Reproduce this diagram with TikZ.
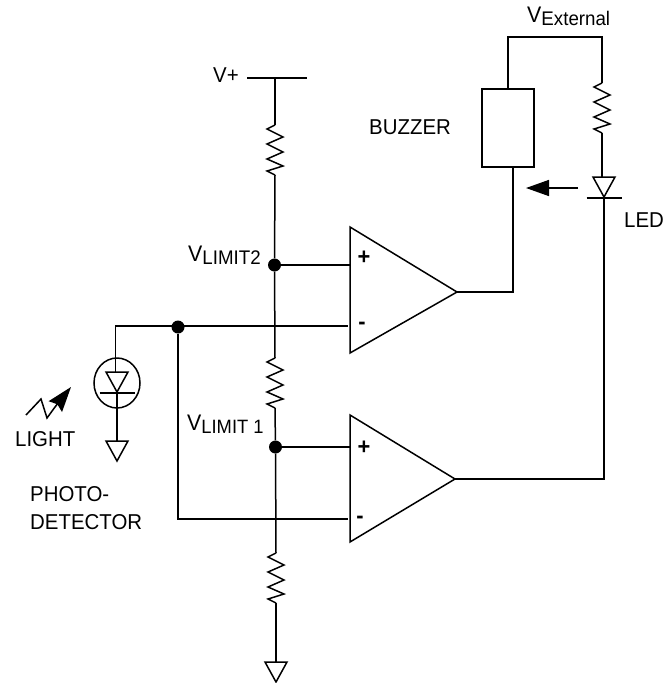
\documentclass[tikz,border=0pt]{standalone}
\usepackage{fontspec}
\setmainfont[FakeStretch=0.95]{Liberation Sans}
\usetikzlibrary{arrows.meta,shapes.geometric}
\tikzset{
  x=1pt,y=-1pt,
  wire/.style={line width=1.5pt,line join=miter},
  dotnode/.style={circle,fill=black,inner sep=0pt,minimum size=13pt},
  lbl/.style={anchor=base west,inner sep=0pt,font=\fontsize{21.5}{24}\selectfont},
  sign/.style={inner sep=0pt,font=\bfseries\fontsize{23}{24}\selectfont},
  pics/res/.style={code={
    \coordinate (-t) at (0,0);
    \coordinate (-b) at (0,50);
    \draw[wire] (0,0) -- (-8,4) -- (8,12) -- (-8,19) -- (8,27) -- (-8,34) -- (8,41) -- (-8,46) -- (0,50);
  }},
  pics/gnd/.style={code={
    \coordinate (-t) at (0,0);
    \draw[wire] (-11,0) -- (11,0) -- (0,20) -- cycle;
  }},
  pics/diode/.style={code={
    \coordinate (-t) at (0,0);
    \coordinate (-b) at (0,21);
    \draw[wire] (-11,0) -- (11,0) -- (0,20) -- cycle;
    \draw[wire] (-17.5,21) -- (17.5,21);
  }},
}
\newcommand{\Vsub}[2]{{\fontsize{22.5}{24}\selectfont V}{\fontsize{#1}{24}\selectfont\raisebox{-3.5pt}{#2}}}
\begin{document}
\begin{tikzpicture}
\useasboundingbox (0,0) rectangle (672,683);
% junctions
\node[dotnode] (dA) at (274.5,265) {};
\node[dotnode] (dB) at (275.5,447) {};
\node[dotnode] (dC) at (178,327) {};
% rail
\coordinate (railL) at (247,78);
\coordinate (railR) at (307,78);
\coordinate (railM) at (275,78);
\draw[wire] (railL) -- (railR);
% resistors
\pic (r1) at (275,125) {res};
\pic (r2) at (275,358) {res};
\pic (r3) at (276,553) {res};
\pic (r4) at (602,83) {res};
\pic (g1) at (276,662) {gnd};
\pic (g2) at (117,441) {gnd};
% comparators
\coordinate (a1t) at (350,227);
\coordinate (a1b) at (350,353);
\coordinate (a1o) at (457,292);
\coordinate (a1p) at (350,265);
\coordinate (a1m) at (348,326);
\coordinate (a2t) at (350,415);
\coordinate (a2b) at (350,542);
\coordinate (a2o) at (455,479);
\coordinate (a2p) at (350,447);
\coordinate (a2m) at (348,519);
\draw[wire] (a1t) -- (a1o) -- (a1b) -- cycle;
\draw[wire] (a2t) -- (a2o) -- (a2b) -- cycle;
\node[sign] (s1) at (364,258) {+};
\node[sign] (s2) at (362,326) {-};
\node[sign] (s3) at (364,448) {+};
\node[sign] (s4) at (360,520) {-};
% ladder
\draw[wire] (railM) -- (r1-t);
\draw[wire] (r1-b) -- (dA);
\draw[wire] (dA) -- (r2-t);
\draw[wire] (r2-b) -- (dB);
\draw[wire] (dB) -- (r3-t);
\draw[wire] (r3-b) -- (g1-t);
\draw[wire] (dA) -- (a1p);
\draw[wire] (dB) -- (a2p);
% photodiode
\coordinate (pw) at (115.5,326);
\pic (pd) at (117,372) {diode};
\node[draw,ellipse,line width=1.5pt,minimum width=46pt,minimum height=50pt,inner sep=0pt] (pc) at (117,383) {};
\draw[wire] (dC.center |- a1m) -- (a1m);
\draw[wire] (dC.center |- a1m) -- (pw) -- (pw |- pd-t);
\draw[wire] (pd-b) -- (g2-t);
\coordinate (m2) at (178,519);
\draw[wire] (dC) -- (m2) -- (a2m);
% light arrow
\coordinate (l1) at (26,415);
\coordinate (l2) at (41,399);
\coordinate (l3) at (47,418);
\coordinate (l4) at (55,407);
\coordinate (l5) at (71,387);
\draw[wire,-{Stealth[length=25pt,width=17pt,inset=3pt]}] (l1) -- (l2) -- (l3) -- (l4) -- (l5);
% buzzer and LED
\node[draw,line width=1.5pt,inner sep=0pt,minimum width=52pt,minimum height=78pt] (bz) at (508,128) {};
\coordinate (e1) at (508,37);
\coordinate (e2) at (602,37);
\draw[wire] (bz.north) -- (e1) -- (e2) -- (r4-t);
\pic (led) at (604,177) {diode};
\draw[wire] (r4-b) -- (602,177);
\coordinate (bo) at (513,167);
\coordinate (ocorner) at (513,292);
\draw[wire] (bo) -- (ocorner) -- (a1o);
\coordinate (lcorner) at (604,479);
\draw[wire] (a2o) -- (lcorner) -- (led-b);
\coordinate (as) at (578,188);
\coordinate (ae) at (526,188);
\draw[wire,-{Triangle[length=23pt,width=16pt]}] (as) -- (ae);
% labels
\node[lbl] (tv) at (213,82) {V+};
\node[lbl] (tx) at (527,22) {\Vsub{19.7}{External}};
\node[lbl] (tb) at (369,134) {BUZZER};
\node[lbl] (tl) at (624,227) {LED};
\node[lbl] (t2) at (188,261) {\Vsub{19.7}{LIMIT2}};
\node[lbl] (t1) at (187,430) {\Vsub{19.3}{LIMIT 1}};
\node[lbl] (tg) at (15,446) {LIGHT};
\node[lbl] (tp) at (30,501) {PHOTO-};
\node[lbl] (td) at (30,529) {DETECTOR};
\end{tikzpicture}
\end{document}
